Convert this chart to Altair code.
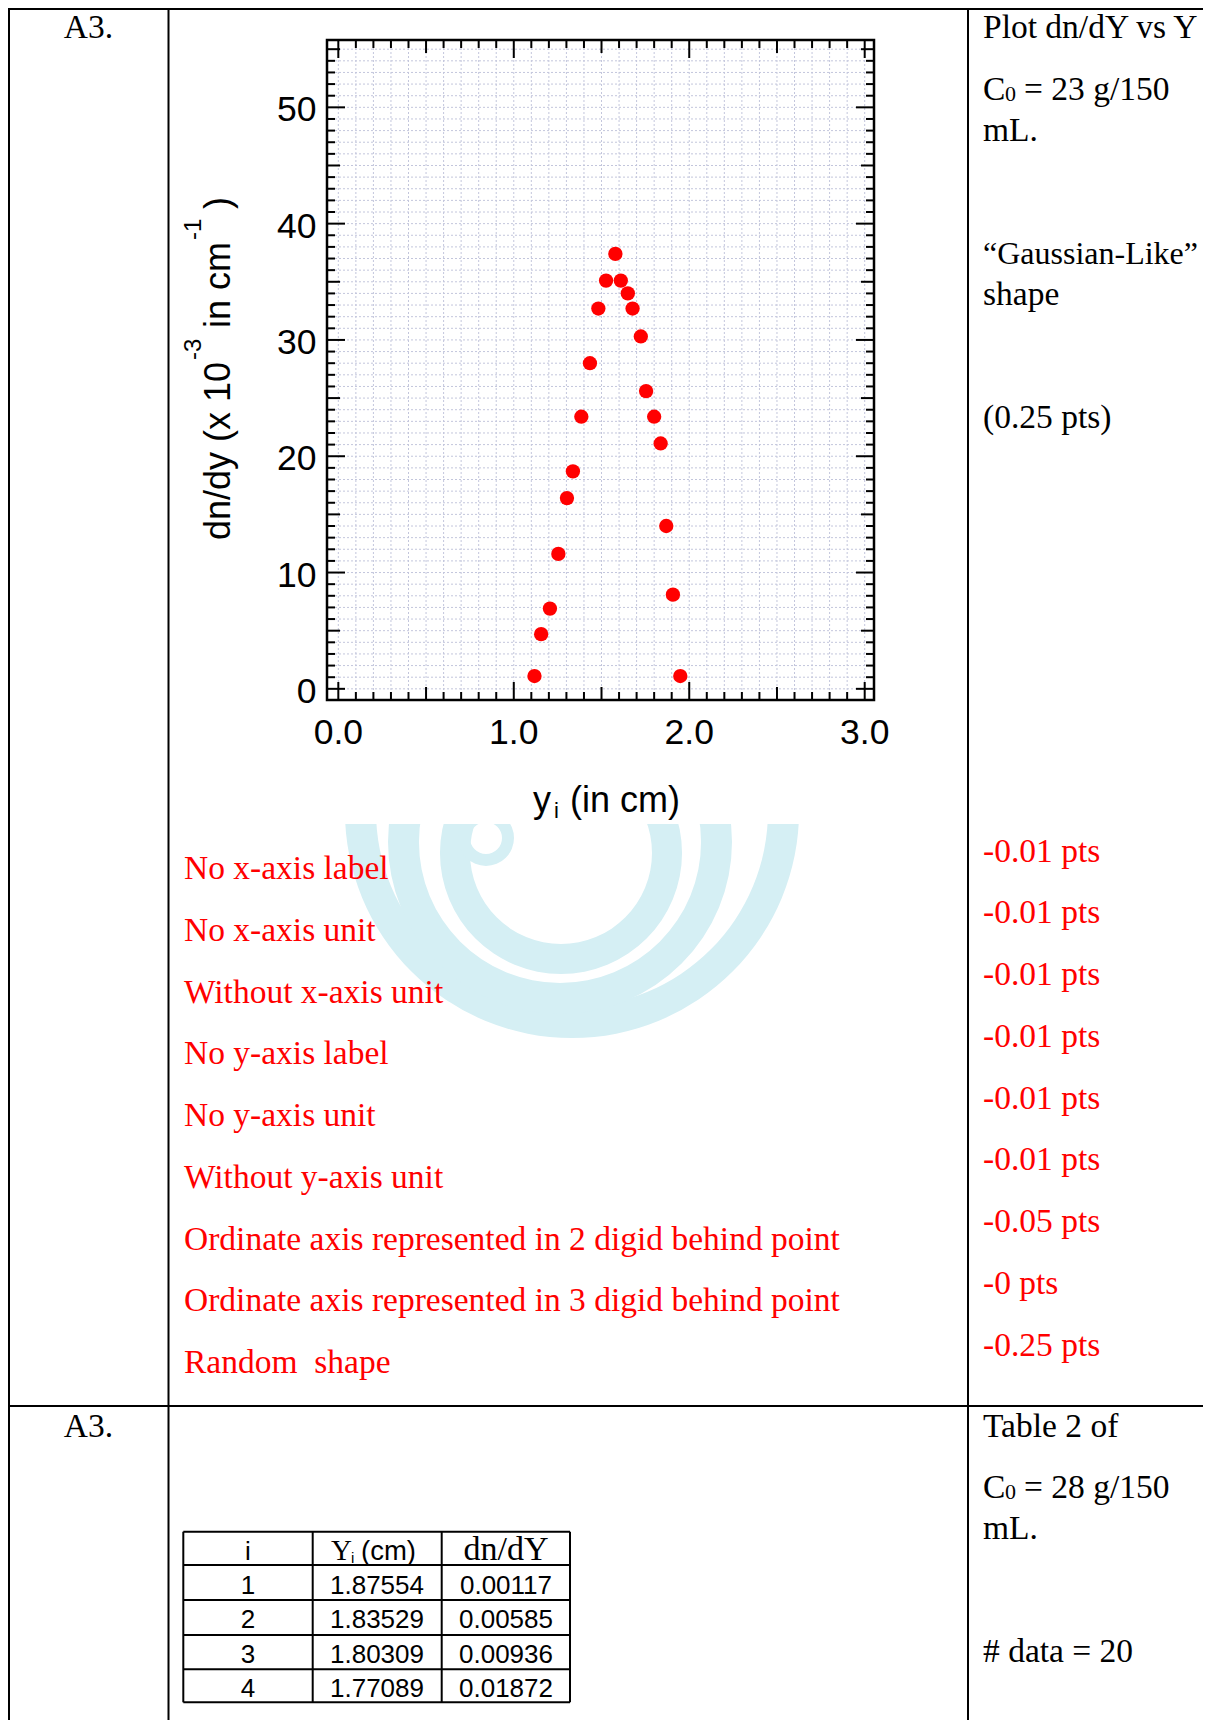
import altair as alt
import pandas as pd

# ---------------- chart values ----------------
y_i_cm = [1.118, 1.156, 1.206, 1.254, 1.303, 1.337, 1.385, 1.434, 1.482, 1.526, 1.579,
          1.610, 1.650, 1.677, 1.724, 1.754, 1.800, 1.837, 1.869, 1.907, 1.949]
dn_dy = [1.1, 4.7, 6.9, 11.6, 16.4, 18.7, 23.4, 28.0, 32.7, 35.1, 37.4,
         35.1, 34.0, 32.7, 30.3, 25.6, 23.4, 21.1, 14.0, 8.1, 1.1]

x_tick_values = [0, 1, 2, 3]
x_tick_labels = ["0.0", "1.0", "2.0", "3.0"]
y_tick_values = [0, 10, 20, 30, 40, 50]
y_tick_labels = ["0", "10", "20", "30", "40", "50"]

row_label = "A3."
row1_notes = ["Plot dn/dY vs Y", "mL.", "\u201cGaussian-Like\u201d", "shape", "(0.25 pts)"]
row1_conc = ["C", "0", "= 23 g/150"]
deduction_items = ["No x-axis label", "No x-axis unit", "Without x-axis unit",
                   "No y-axis label", "No y-axis unit", "Without y-axis unit",
                   "Ordinate axis represented in 2 digid behind point",
                   "Ordinate axis represented in 3 digid behind point",
                   "Random\u00a0 shape"]
deduction_points = ["-0.01 pts", "-0.01 pts", "-0.01 pts", "-0.01 pts", "-0.01 pts",
                    "-0.01 pts", "-0.05 pts", "-0 pts", "-0.25 pts"]
row2_notes = ["Table 2 of", "mL.", "# data = 20"]
row2_conc = ["C", "0", "= 28 g/150"]
table_index = ["1", "2", "3", "4"]
table_y = ["1.87554", "1.83529", "1.80309", "1.77089"]
table_dndy = ["0.00117", "0.00585", "0.00936", "0.01872"]

# ---------------- layout ----------------
OX, OY = 327, 40          # plot-area origin on the page
W, H = 547, 660           # plot area
TOTAL_W, TOTAL_H = 1195, 1712
SERIF = "Liberation Serif"
SANS = "Liberation Sans"
RED = "#ff0000"
GRID = "#c3c6dc"
WM = "#d5eff4"
FS = 33.5                 # body serif size

xs = alt.Scale(domain=[-0.0645, 3.053], nice=False, zero=False)
ys = alt.Scale(domain=[-0.96, 55.79], nice=False, zero=False)


def one():
    return pd.DataFrame({"k": [0]})


def text_layer(s, X, Y, size, font=SERIF, color="black", align="left", angle=0,
               baseline="alphabetic"):
    kw = dict(align=align, baseline=baseline, font=font, fontSize=size, color=color)
    if angle:
        kw["angle"] = angle
    return alt.Chart(pd.DataFrame({"t": [s]})).mark_text(**kw).encode(
        x=alt.value(X - OX), y=alt.value(Y - OY), text="t:N")


def hline(X1, X2, Y, w=2):
    return alt.Chart(one()).mark_rule(color="black", strokeWidth=w).encode(
        x=alt.value(X1 - OX), x2=alt.value(X2 - OX), y=alt.value(Y - OY))


def vline(X, Y1, Y2, w=2):
    return alt.Chart(one()).mark_rule(color="black", strokeWidth=w).encode(
        x=alt.value(X - OX), y=alt.value(Y1 - OY), y2=alt.value(Y2 - OY))


def ring(cx, cy, r_out, r_in):
    return alt.Chart(one()).mark_arc(radius=r_out, radius2=r_in, theta=0, theta2=6.2832,
                                     color=WM).encode(
        x=alt.value(cx - OX), y=alt.value(cy - OY))


layers = []

# watermark (partly hidden by the white picture of the plot)
layers += [ring(572, 811, 227, 196), ring(560, 842, 172, 141),
           ring(561, 853, 121, 91), ring(486, 838, 28, 16)]
layers.append(alt.Chart(one()).mark_rect(color="white").encode(
    x=alt.value(318 - OX), x2=alt.value(815 - OX),
    y=alt.value(560 - OY), y2=alt.value(824 - OY)))

# grid
gx = [round(i * 0.1, 1) for i in range(31)]
gy = list(range(56))
layers.append(alt.Chart(pd.DataFrame({"v": gx})).mark_rule(
    color=GRID, strokeWidth=1, strokeDash=[2, 2]).encode(
    x=alt.X("v:Q", scale=xs, axis=None), y=alt.value(0), y2=alt.value(H)))
layers.append(alt.Chart(pd.DataFrame({"v": gy})).mark_rule(
    color=GRID, strokeWidth=1, strokeDash=[2, 2]).encode(
    y=alt.Y("v:Q", scale=ys, axis=None), x=alt.value(0), x2=alt.value(W)))

# points
pts = pd.DataFrame({"y_i": y_i_cm, "dndy": dn_dy})
layers.append(alt.Chart(pts).mark_circle(size=205, color=RED, opacity=1).encode(
    x=alt.X("y_i:Q", scale=xs, axis=None), y=alt.Y("dndy:Q", scale=ys, axis=None)))

# inward ticks on all four sides
x_major = [0, 1, 2, 3]
x_mid = [0.5, 1.5, 2.5]
x_minor = [v for v in gx if v not in x_major and v not in x_mid]
y_major = [0, 10, 20, 30, 40, 50]
y_mid = [5, 15, 25, 35, 45, 55]
y_minor = [v for v in gy if v not in y_major and v not in y_mid]
for vals, ln in [(x_major, 18), (x_mid, 13), (x_minor, 8)]:
    base = alt.Chart(pd.DataFrame({"v": vals})).mark_rule(color="black", strokeWidth=2)
    layers.append(base.encode(x=alt.X("v:Q", scale=xs, axis=None),
                              y=alt.value(H), y2=alt.value(H - ln)))
    layers.append(base.encode(x=alt.X("v:Q", scale=xs, axis=None),
                              y=alt.value(0), y2=alt.value(ln)))
for vals, ln in [(y_major, 18), (y_mid, 13), (y_minor, 8)]:
    base = alt.Chart(pd.DataFrame({"v": vals})).mark_rule(color="black", strokeWidth=2)
    layers.append(base.encode(y=alt.Y("v:Q", scale=ys, axis=None),
                              x=alt.value(0), x2=alt.value(ln)))
    layers.append(base.encode(y=alt.Y("v:Q", scale=ys, axis=None),
                              x=alt.value(W), x2=alt.value(W - ln)))

# frame
layers.append(alt.Chart(one()).mark_rect(fillOpacity=0, stroke="black", strokeWidth=2.5).encode(
    x=alt.value(0), x2=alt.value(W), y=alt.value(0), y2=alt.value(H)))

# tick labels
layers.append(alt.Chart(pd.DataFrame({"v": x_tick_values, "t": x_tick_labels})).mark_text(
    font=SANS, fontSize=35.5, align="center", baseline="alphabetic", color="black").encode(
    x=alt.X("v:Q", scale=xs, axis=None), y=alt.value(704), text="t:N"))
layers.append(alt.Chart(pd.DataFrame({"v": y_tick_values, "t": y_tick_labels})).mark_text(
    font=SANS, fontSize=35.5, align="right", baseline="middle", dy=3, color="black").encode(
    y=alt.Y("v:Q", scale=ys, axis=None), x=alt.value(-10.5), text="t:N"))

# axis titles
layers += [
    text_layer("y", 533, 812, 36, font=SANS),
    text_layer("i", 554, 818, 22, font=SANS),
    text_layer("(in cm)", 570, 812, 36, font=SANS),
    text_layer("dn/dy (x 10", 230, 540, 36, font=SANS, angle=270),
    text_layer("-3", 201, 360, 24, font=SANS, angle=270),
    text_layer("in cm", 230, 328, 36, font=SANS, angle=270),
    text_layer("-1", 201, 240, 24, font=SANS, angle=270),
    text_layer(")", 230, 209, 36, font=SANS, angle=270),
]

# outer table
layers += [hline(9, 1211, 9), vline(9, 8, 1729), vline(168.5, 8, 1729),
           vline(968, 8, 1729), hline(9, 1211, 1406)]

# row 1 texts
layers.append(text_layer(row_label, 88.5, 38, FS, align="center"))
layers.append(text_layer(row1_notes[0], 983, 38, FS))
layers += [text_layer(row1_conc[0], 983, 100, FS), text_layer(row1_conc[1], 1005, 101, 22),
           text_layer(row1_conc[2], 1024, 100, FS)]
for s, Y, size in zip(row1_notes[1:], [141, 264, 305, 428], [FS, 32, FS, FS]):
    layers.append(text_layer(s, 983, Y, size))
for s, Y in zip(deduction_items, [879, 941, 1003, 1064, 1126, 1188, 1250, 1311, 1373]):
    layers.append(text_layer(s, 184, Y, FS, color=RED))
for s, Y in zip(deduction_points, [861.5, 923, 985, 1047, 1108.5, 1170, 1232, 1294, 1355.5]):
    layers.append(text_layer(s, 983, Y, FS, color=RED))

# row 2 texts
layers.append(text_layer(row_label, 88.5, 1437, FS, align="center"))
layers.append(text_layer(row2_notes[0], 983, 1437, FS))
layers += [text_layer(row2_conc[0], 983, 1498, FS), text_layer(row2_conc[1], 1005, 1499, 22),
           text_layer(row2_conc[2], 1024, 1498, FS)]
layers.append(text_layer(row2_notes[1], 983, 1539, FS))
layers.append(text_layer(row2_notes[2], 983, 1662, FS))

# inner data table
tx = [183.3, 312.7, 441.7, 570]
ty = [1531.7, 1565, 1600, 1635, 1669.3, 1702.3]
for X in tx:
    layers.append(vline(X, ty[0], ty[-1]))
for Y in ty:
    layers.append(hline(tx[0], tx[-1], Y))
layers += [text_layer("i", 248, 1560, 26, font=SANS, align="center"),
           text_layer("Y", 331, 1560, 29),
           text_layer("i", 351, 1563, 15, font=SANS),
           text_layer("(cm)", 361, 1560, 27.5, font=SANS),
           text_layer("dn/dY", 506, 1560, 34, align="center")]
for k, Y in enumerate([1594, 1628, 1663, 1697]):
    layers += [text_layer(table_index[k], 248, Y, 26, font=SANS, align="center"),
               text_layer(table_y[k], 377, Y, 26, font=SANS, align="center"),
               text_layer(table_dndy[k], 506, Y, 26, font=SANS, align="center")]

chart = alt.layer(*layers).properties(
    width=W, height=H,
    padding={"left": OX - 8, "top": OY - 8, "right": TOTAL_W - (OX - 8) - W,
             "bottom": TOTAL_H - (OY - 8) - H},
    autosize=alt.AutoSizeParams(type="none"),
    background="white",
).configure_view(strokeWidth=0)

chart.save("out.html", embed_options={"renderer": "svg", "actions": False})
